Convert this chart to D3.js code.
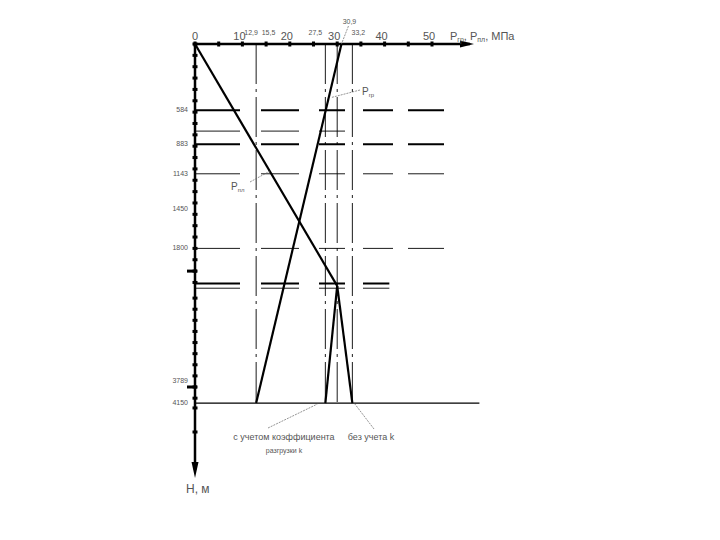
<!DOCTYPE html>
<html><head><meta charset="utf-8">
<script src="https://cdn.jsdelivr.net/npm/d3@7"></script>
<style>body{margin:0;background:#fff} text{font-family:"Liberation Sans",Arial,sans-serif;fill:#555}</style>
</head><body><svg id="c" width="720" height="540"></svg>
<script>
// ---- data ----
const pressureTicks = [0, 10, 20, 30, 40, 50];
const pressureMinorTicks = [0, 5, 10, 15, 20, 25, 30, 35, 40, 45, 50];
const pressureNotes = ["12,9", "15,5", "27,5", "30,9", "33,2"];
const pressureNoteValues = [12.9, 15.5, 27.5, 30.9, 33.2];
const depthLabels = [584, 883, 1143, 1450, 1800, 3789, 4150];
const depthMajorTicks = [2000, 3789];
// P_гр line (depth, MPa)
const pGrDepth = [0, 4150];
const pGrValue = [30.9, 12.9];
// P_пл line
const pPlDepth = [0, 2130];
const pPlValue = [0, 30.0];
// branches below break point
const withKDepth = [2130, 4150];
const withKValue = [30.0, 27.5];
const withoutKDepth = [2130, 4150];
const withoutKValue = [30.0, 33.2];
// reference lines
const verticalRefs = [12.9, 27.5, 30.0, 33.2];
const boldLevels = [584, 883, 2110];
const thinLevels = [767, 1143, 1800, 2160];
const bottomLevel = 4150;

// ---- scales ----
const x = d3.scaleLinear().domain([0, 50]).range([195, 432]);
const y = d3.scaleLinear().domain([0, 2140, 3789, 4800]).range([44, 287, 387, 432]);
const depthTicksTop = d3.range(0, 2200, 100);
const depthTicksLow = d3.range(1, 10).map(i => 2140 + i * (3789 - 2140) / 9);
const depthTicksBottom = [4040, 4260, 4800];

const svg = d3.select("#c");
const g = svg.append("g");
const dashH = "45,21,38,20,26,18,30,15,36";

// horizontal bold dashed levels
g.selectAll(".bl").data(boldLevels).join("line")
  .attr("x1", x(0)).attr("x2", d => d === 2110 ? x(41) : x(53))
  .attr("y1", d => y(d)).attr("y2", d => y(d))
  .attr("stroke", "#000").attr("stroke-width", 2).attr("stroke-dasharray", dashH);
g.selectAll(".tl").data(thinLevels).join("line")
  .attr("x1", x(0)).attr("x2", d => d === 767 ? x(32) : (d === 2160 ? x(41) : x(53)))
  .attr("y1", d => y(d)).attr("y2", d => y(d))
  .attr("stroke", "#000").attr("stroke-width", 0.9).attr("stroke-dasharray", dashH);
// bottom solid
g.append("line").attr("x1", x(0)).attr("x2", x(60)).attr("y1", y(bottomLevel)).attr("y2", y(bottomLevel))
  .attr("stroke", "#000").attr("stroke-width", 1.2);

// vertical dash-dot references
g.selectAll(".vr").data(verticalRefs).join("line")
  .attr("x1", d => x(d)).attr("x2", d => x(d))
  .attr("y1", y(0)).attr("y2", y(bottomLevel))
  .attr("stroke", "#000").attr("stroke-width", 0.9).attr("stroke-dasharray", "40,5,3,5");

// main lines
const line = d3.line().x(d => x(d[1])).y(d => y(d[0]));
function draw(depths, vals, w) {
  g.append("path").datum(depths.map((d, i) => [d, vals[i]])).attr("d", line)
    .attr("fill", "none").attr("stroke", "#000").attr("stroke-width", w);
}
draw(pGrDepth, pGrValue, 2.2);
draw(pPlDepth, pPlValue, 2.2);
draw(withKDepth, withKValue, 2.2);
draw(withoutKDepth, withoutKValue, 2.2);

// axes
g.append("line").attr("x1", x(0)).attr("x2", 470).attr("y1", y(0)).attr("y2", y(0))
  .attr("stroke", "#000").attr("stroke-width", 2.5);
g.append("path").attr("d", `M474,${y(0)} L460,${y(0) - 3.5} L460,${y(0) + 3.5} Z`).attr("fill", "#000");
g.append("line").attr("x1", x(0)).attr("x2", x(0)).attr("y1", y(0)).attr("y2", 470)
  .attr("stroke", "#000").attr("stroke-width", 2.5);
g.append("path").attr("d", `M${x(0)},478 L${x(0) - 3.5},462 L${x(0) + 3.5},462 Z`).attr("fill", "#000");

// x ticks
g.selectAll(".xt").data(pressureMinorTicks).join("rect")
  .attr("x", d => x(d) - 1.5).attr("y", y(0) - 2.5).attr("width", 3).attr("height", 5).attr("fill", "#000");
g.selectAll(".xl").data(pressureTicks).join("text")
  .attr("x", d => x(d) - (d === 0 ? 0 : 3)).attr("y", 40).attr("text-anchor", "middle")
  .attr("font-size", 11).text(d => d);
// pressure notes
const noteDx = [-5, 0, -10, 8, 6];
const noteDy = [35, 35, 35, 24, 35];
g.selectAll(".pn").data(pressureNotes).join("text")
  .attr("x", (d, i) => x(pressureNoteValues[i]) + noteDx[i])
  .attr("y", (d, i) => noteDy[i]).attr("text-anchor", "middle")
  .attr("font-size", 7).text(d => d);
// leader for 30,9
g.append("line").attr("x1", x(30.9) + 7).attr("y1", 26).attr("x2", x(30.9)).attr("y2", y(0))
  .attr("stroke", "#666").attr("stroke-width", 0.7).attr("stroke-dasharray", "2,1");

// x axis title
const xt = g.append("text").attr("x", 450).attr("y", 40).attr("font-size", 11);
xt.append("tspan").text("P");
xt.append("tspan").attr("font-size", 7).attr("dy", 2).text("гр");
xt.append("tspan").attr("dy", -2).text(", P");
xt.append("tspan").attr("font-size", 7).attr("dy", 2).text("пл");
xt.append("tspan").attr("dy", -2).text(", МПа");

// y ticks
const yTicks = depthTicksTop.concat(depthTicksLow, depthTicksBottom);
g.selectAll(".yt").data(yTicks).join("rect")
  .attr("x", x(0) - 2.5).attr("y", d => y(d) - 1.5).attr("width", 5).attr("height", 3).attr("fill", "#000");
g.selectAll(".ytm").data(depthMajorTicks).join("rect")
  .attr("x", x(0) - 8).attr("y", d => y(d) - 1.5).attr("width", 10).attr("height", 3).attr("fill", "#000");
g.selectAll(".yl").data(depthLabels).join("text")
  .attr("x", x(0) - 7).attr("y", d => y(d) + (d === 3789 ? -4 : 2))
  .attr("text-anchor", "end").attr("font-size", 7).text(d => d);

// y axis title
g.append("text").attr("x", 186).attr("y", 493).attr("font-size", 12).attr("fill", "#333").text("H, м");

// line labels
const lg = g.append("text").attr("x", 362).attr("y", 95).attr("font-size", 10);
lg.append("tspan").text("P");
lg.append("tspan").attr("font-size", 6).attr("dy", 2).text("гр");
g.append("line").attr("x1", 360).attr("y1", 90).attr("x2", x(pGrValue[0] + (pGrValue[1] - pGrValue[0]) * (470 / 4150)))
  .attr("y2", y(470)).attr("stroke", "#666").attr("stroke-width", 0.7).attr("stroke-dasharray", "2,1");
const lp = g.append("text").attr("x", 231).attr("y", 190).attr("font-size", 10);
lp.append("tspan").text("P");
lp.append("tspan").attr("font-size", 6).attr("dy", 2).text("пл");
g.append("line").attr("x1", 250).attr("y1", 182).attr("x2", x(pPlValue[1] * 1120 / pPlDepth[1]))
  .attr("y2", y(1120)).attr("stroke", "#666").attr("stroke-width", 0.7).attr("stroke-dasharray", "2,1");

// bottom notes
g.append("text").attr("x", 284).attr("y", 440).attr("text-anchor", "middle").attr("font-size", 9)
  .text("с учетом коэффициента");
g.append("text").attr("x", 284).attr("y", 453).attr("text-anchor", "middle").attr("font-size", 7)
  .text("разгрузки k");
g.append("text").attr("x", 371).attr("y", 440).attr("text-anchor", "middle").attr("font-size", 9)
  .text("без учета k");
g.append("line").attr("x1", 268).attr("y1", 428).attr("x2", x(withKValue[1]) - 8).attr("y2", y(bottomLevel) + 1)
  .attr("stroke", "#666").attr("stroke-width", 0.7).attr("stroke-dasharray", "2,1");
g.append("line").attr("x1", 374).attr("y1", 429).attr("x2", x(withoutKValue[1]) + 1).attr("y2", y(bottomLevel) - 1)
  .attr("stroke", "#666").attr("stroke-width", 0.7).attr("stroke-dasharray", "2,1");
</script></body></html>
